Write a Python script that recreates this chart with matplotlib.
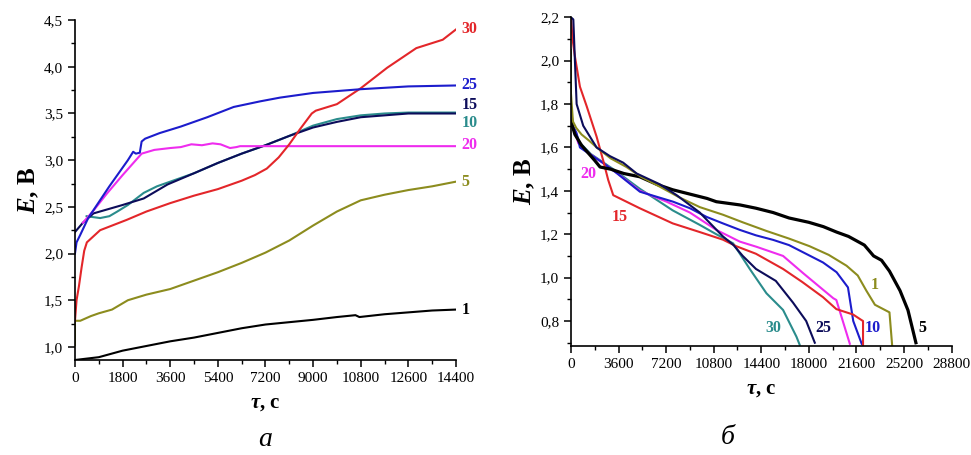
import matplotlib
matplotlib.use('Agg')
import matplotlib.pyplot as plt
from matplotlib.ticker import MultipleLocator, FuncFormatter

plt.rcParams['font.family'] = ['Liberation Serif', 'DejaVu Serif']
plt.rcParams['mathtext.fontset'] = 'custom'
plt.rcParams['mathtext.it'] = 'Liberation Serif:italic:bold'
plt.rcParams['mathtext.rm'] = 'Liberation Serif:bold'
plt.rcParams['mathtext.bf'] = 'Liberation Serif:bold'

# --- panel a: charge curves ---
t1_a = [0, 900, 1800, 2700, 3600, 4500, 5400, 6300, 7200, 8100, 9000, 9900, 10600, 10750, 11700, 12600, 13500, 14400]
E1_a = [0.86, 0.89, 0.96, 1.01, 1.06, 1.10, 1.15, 1.20, 1.24, 1.265, 1.29, 1.32, 1.34, 1.32, 1.35, 1.37, 1.39, 1.40]

t5_a = [0, 0, 200, 600, 900, 1400, 2000, 2700, 3600, 4500, 5400, 6300, 7200, 8100, 9000, 9900, 10800, 11700, 12600, 13500, 14400]
E5_a = [1.02, 1.28, 1.28, 1.33, 1.36, 1.40, 1.50, 1.56, 1.62, 1.71, 1.80, 1.90, 2.01, 2.14, 2.30, 2.45, 2.57, 2.63, 2.68, 2.72, 2.77]

t30_a = [0, 60, 150, 250, 350, 450, 950, 1950, 2700, 3600, 4500, 5400, 6300, 6800, 7250, 7700, 8100, 8500, 8950, 9100, 9900, 10800, 11800, 12900, 13900, 14400]
E30_a = [1.28, 1.50, 1.65, 1.85, 2.03, 2.12, 2.25, 2.36, 2.45, 2.54, 2.62, 2.69, 2.78, 2.84, 2.91, 3.03, 3.17, 3.33, 3.50, 3.53, 3.60, 3.77, 3.99, 4.20, 4.29, 4.40]

t25_a = [0, 60, 200, 500, 900, 1300, 1700, 2000, 2200, 2300, 2450, 2520, 2650, 3200, 4000, 5000, 6000, 7000, 7750, 9000, 10800, 12600, 14400]
E25_a = [2.00, 2.12, 2.20, 2.38, 2.55, 2.72, 2.88, 3.00, 3.09, 3.07, 3.08, 3.20, 3.23, 3.29, 3.36, 3.46, 3.57, 3.63, 3.67, 3.72, 3.76, 3.79, 3.80]

t20_a = [300, 700, 1200, 1800, 2520, 3000, 3600, 4000, 4400, 4800, 5200, 5500, 5860, 6100, 6240, 14400]
E20_a = [2.33, 2.46, 2.64, 2.84, 3.07, 3.11, 3.13, 3.14, 3.17, 3.16, 3.18, 3.17, 3.13, 3.14, 3.15, 3.15]

t15_a = [0, 300, 700, 1800, 2600, 3500, 4500, 5400, 6300, 7200, 8100, 9000, 9900, 10800, 11700, 12600, 13500, 14400]
E15_a = [2.23, 2.33, 2.43, 2.52, 2.59, 2.74, 2.86, 2.97, 3.07, 3.16, 3.26, 3.35, 3.41, 3.46, 3.48, 3.50, 3.50, 3.50]

t10_a = [440, 950, 1300, 1600, 2000, 2600, 3100, 3900, 4500, 5400, 6300, 7200, 8100, 9000, 9900, 10800, 11700, 12600, 14400]
E10_a = [2.40, 2.38, 2.40, 2.45, 2.52, 2.65, 2.72, 2.80, 2.86, 2.97, 3.07, 3.16, 3.26, 3.37, 3.44, 3.48, 3.50, 3.51, 3.51]

# --- panel b: discharge curves ---
t5_b = [0, 300, 800, 1800, 2200, 3000, 4000, 5200, 6500, 7700, 9000, 10300, 11000, 12800, 14000, 15300, 16500, 18000, 19100, 20100, 21000, 21600, 22200, 22900, 23500, 24100, 24900, 25500, 26100]
E5_b = [1.72, 1.66, 1.61, 1.54, 1.51, 1.50, 1.48, 1.465, 1.43, 1.405, 1.385, 1.365, 1.35, 1.335, 1.32, 1.30, 1.275, 1.255, 1.235, 1.21, 1.19, 1.17, 1.15, 1.10, 1.08, 1.03, 0.94, 0.85, 0.70]

t1_b = [0, 0, 150, 400, 800, 1400, 1950, 3000, 4200, 5300, 6700, 8200, 9750, 11500, 13000, 14800, 16500, 18050, 19500, 20850, 21700, 22350, 23000, 24100, 24300]
E1_b = [2.05, 1.85, 1.72, 1.69, 1.66, 1.63, 1.60, 1.55, 1.51, 1.465, 1.42, 1.37, 1.325, 1.29, 1.255, 1.215, 1.18, 1.145, 1.105, 1.055, 1.01, 0.94, 0.875, 0.84, 0.69]

t15_b = [0, 120, 300, 680, 1190, 1940, 2440, 2820, 3200, 5200, 7700, 9750, 11500, 12500, 14000, 16050, 17500, 19070, 20080, 21350, 21970, 22100, 22100]
E15_b = [2.20, 2.10, 2.02, 1.88, 1.79, 1.65, 1.54, 1.45, 1.38, 1.32, 1.25, 1.21, 1.175, 1.145, 1.11, 1.04, 0.98, 0.91, 0.855, 0.83, 0.805, 0.80, 0.69]

t25_b = [0, 180, 300, 430, 930, 1940, 2950, 3950, 4970, 6730, 8000, 9750, 10300, 11500, 12300, 13000, 14000, 15500, 16800, 17800, 18450]
E25_b = [2.20, 2.19, 2.00, 1.80, 1.70, 1.60, 1.56, 1.53, 1.48, 1.43, 1.38, 1.30, 1.265, 1.19, 1.15, 1.10, 1.04, 0.985, 0.885, 0.80, 0.70]

t10_b = [0, 150, 430, 680, 1400, 2400, 3500, 5220, 7730, 9000, 10260, 11500, 12780, 14000, 15300, 16500, 19070, 20100, 20960, 21360, 22000]
E10_b = [1.78, 1.70, 1.665, 1.60, 1.57, 1.53, 1.48, 1.396, 1.35, 1.32, 1.28, 1.25, 1.22, 1.195, 1.174, 1.15, 1.07, 1.025, 0.955, 0.80, 0.695]

t20_b = [300, 550, 1440, 3200, 5220, 7240, 9000, 11000, 12780, 14050, 16050, 17580, 19850, 20080, 21100]
E20_b = [1.68, 1.62, 1.57, 1.495, 1.40, 1.35, 1.30, 1.22, 1.166, 1.142, 1.10, 1.02, 0.905, 0.897, 0.695]

t30_b = [400, 700, 1500, 3200, 5200, 7700, 9750, 11000, 12270, 13530, 14790, 16050, 17060, 17310]
E30_b = [1.66, 1.62, 1.57, 1.50, 1.41, 1.31, 1.243, 1.20, 1.158, 1.04, 0.928, 0.851, 0.728, 0.69]

colors = {
    '1': '#000000', '5': '#8c8c1e', '10': '#2a8c8c', '15': '#0c0c5a',
    '20': '#ee2cee', '25': '#1c1ccc', '30': '#e3262a',
}
colors_b = {
    '1': '#8c8c1e', '5': '#000000', '10': '#1c1ccc', '15': '#e3262a',
    '20': '#ee2cee', '25': '#0c0c5a', '30': '#2a8c8c',
}

fig = plt.figure(figsize=(9.71, 4.55), dpi=100)
ax1 = fig.add_axes([0.0772, 0.2088, 0.3924, 0.747])
ax2 = fig.add_axes([0.588, 0.2396, 0.392, 0.7224])

comma = FuncFormatter(lambda v, p: f'{v:.1f}'.replace('.', ','))
intfmt = FuncFormatter(lambda v, p: f'{int(round(v))}')


def style_axes(ax):
    for s in ['top', 'right']:
        ax.spines[s].set_visible(False)
    for s in ['left', 'bottom']:
        ax.spines[s].set_linewidth(1.2)
    ax.tick_params(which='major', direction='out', length=5, width=1.1, labelsize=11)
    ax.tick_params(which='minor', direction='out', length=3, width=1.0)
    ax.yaxis.set_major_formatter(comma)
    ax.xaxis.set_major_formatter(intfmt)
    ax.set_xlabel(r'$\tau$, с', fontsize=15, fontweight='bold', labelpad=6)
    ax.set_ylabel(r'$E$, В', fontsize=18, fontweight='bold', labelpad=2)


lw = 1.5
ax1.plot(t1_a, E1_a, color=colors['1'], lw=lw)
ax1.plot(t5_a, E5_a, color=colors['5'], lw=lw)
ax1.plot(t10_a, E10_a, color=colors['10'], lw=lw)
ax1.plot(t15_a, E15_a, color=colors['15'], lw=lw)
ax1.plot(t20_a, E20_a, color=colors['20'], lw=lw)
ax1.plot(t30_a, E30_a, color=colors['30'], lw=lw)
ax1.plot(t25_a, E25_a, color=colors['25'], lw=lw)
ax1.set_xlim(0, 14400)
ax1.set_ylim(0.86, 4.5)
ax1.xaxis.set_major_locator(MultipleLocator(1800))
ax1.xaxis.set_minor_locator(MultipleLocator(900))
ax1.yaxis.set_major_locator(MultipleLocator(0.5))
ax1.yaxis.set_minor_locator(MultipleLocator(0.25))
style_axes(ax1)

labels_a = [('30', 4.40), ('25', 3.80), ('15', 3.59), ('10', 3.40), ('20', 3.16), ('5', 2.77), ('1', 1.40)]
for name, y in labels_a:
    ax1.text(14600, y, name, color=colors[name], fontsize=11.5, fontweight='bold',
             ha='left', va='center', clip_on=False)

ax2.plot(t30_b, E30_b, color=colors_b['30'], lw=lw)
ax2.plot(t20_b, E20_b, color=colors_b['20'], lw=lw)
ax2.plot(t10_b, E10_b, color=colors_b['10'], lw=lw)
ax2.plot(t15_b, E15_b, color=colors_b['15'], lw=lw)
ax2.plot(t5_b, E5_b, color=colors_b['5'], lw=2.3)
ax2.plot(t1_b, E1_b, color=colors_b['1'], lw=lw)
ax2.plot(t25_b, E25_b, color=colors_b['25'], lw=lw)
ax2.set_xlim(0, 28800)
ax2.set_ylim(0.685, 2.2)
ax2.xaxis.set_major_locator(MultipleLocator(3600))
ax2.xaxis.set_minor_locator(MultipleLocator(1800))
ax2.yaxis.set_major_locator(MultipleLocator(0.2))
ax2.yaxis.set_minor_locator(MultipleLocator(0.1))
style_axes(ax2)

labels_b = [('20', 1290, 1.478), ('15', 3704, 1.28), ('1', 22980, 0.966), ('30', 15345, 0.77),
            ('25', 19074, 0.77), ('10', 22800, 0.77), ('5', 26580, 0.77)]
for name, x, y in labels_b:
    ax2.text(x, y, name, color=colors_b[name], fontsize=11.5, fontweight='bold',
             ha='center', va='center', clip_on=False)

fig.text(265 / 971, 1 - 440 / 455, 'а', fontsize=20, style='italic', ha='center', va='center')
fig.text(728 / 971, 1 - 437 / 455, 'б', fontsize=20, style='italic', ha='center', va='center')

fig.savefig('out.png', dpi=100)
